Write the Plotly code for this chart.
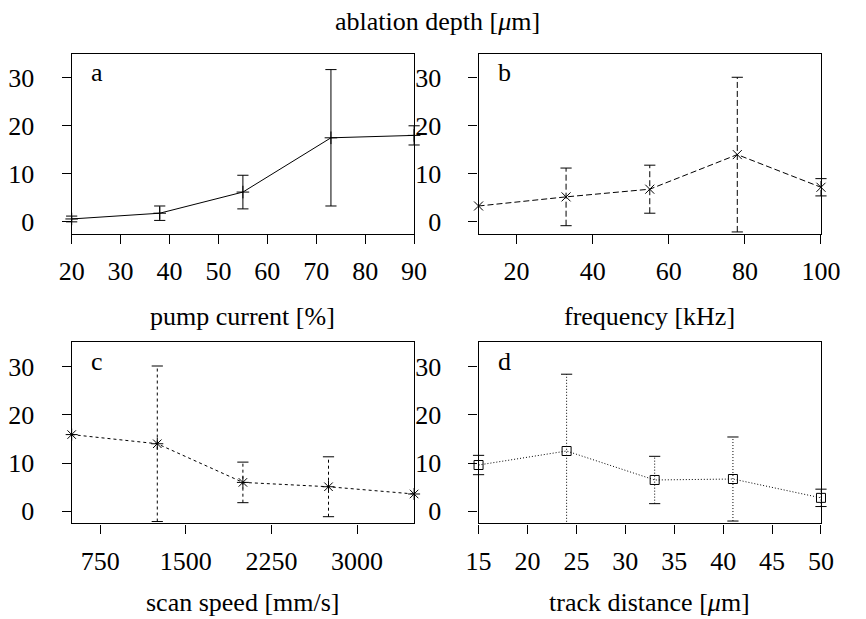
import plotly.graph_objects as go

# ---- data ----
pump_current = [20, 38, 55, 73, 90]
depth_a = [0.6, 1.8, 6.2, 17.5, 18.0]
err_a = [0.6, 1.5, 3.5, 14.2, 2.0]

frequency = [10, 33, 55, 78, 100]
depth_b = [3.3, 5.2, 6.8, 14.0, 7.2]
err_b = [0.0, 6.0, 5.0, 16.1, 1.8]

scan_speed = [500, 1250, 2000, 2750, 3500]
depth_c = [15.9, 14.0, 6.0, 5.1, 3.6]
err_c = [0.0, 16.1, 4.2, 6.2, 0.0]

track_distance = [15, 24, 33, 41, 50]
depth_d = [9.6, 12.5, 6.5, 6.7, 2.8]
err_d = [2.0, 15.9, 4.9, 8.7, 1.8]

panel_labels = ["a", "b", "c", "d"]
x_titles = ["pump current [%]", "frequency [kHz]", "scan speed [mm/s]",
            "track distance [<i>μ</i>m]"]
y_title = "ablation depth [<i>μ</i>m]"
y_ticks = [0, 10, 20, 30]
Y_RANGE = [-2.5, 35]

FONT = "Liberation Serif"
FS = 26

panels = [
    dict(x=pump_current, y=depth_a, e=err_a, dash="solid", sym="cross-thin-open", msize=9,
         xrange=[20, 90], dtick=10),
    dict(x=frequency, y=depth_b, e=err_b, dash="6px,3px", sym="x-thin-open", msize=9,
         xrange=[10, 100], dtick=20),
    dict(x=scan_speed, y=depth_c, e=err_c, dash="3px,3px", sym="asterisk-open", msize=10,
         xrange=[500, 3500], dtick=750),
    dict(x=track_distance, y=depth_d, e=err_d, dash="1px,2px", sym="square-open", msize=9,
         xrange=[15, 50], dtick=5),
]

W, H = 866, 619
xdoms = [[61 / W, 417 / W], [484 / W, 840 / W]]
ydoms = [[1 - 235 / H, 1 - 54 / H], [1 - 526 / H, 1 - 344 / H]]

fig = go.Figure()

for i, p in enumerate(panels):
    n = i + 1
    xa = "x" if n == 1 else f"x{n}"
    ya = "y" if n == 1 else f"y{n}"
    ex, ey = [], []
    cx, cy = [], []
    for xv, yv, ev in zip(p["x"], p["y"], p["e"]):
        if ev <= 0:
            continue
        ex += [xv, xv, None]
        ey += [yv - ev, yv + ev, None]
        for v in (yv - ev, yv + ev):
            if Y_RANGE[0] <= v <= Y_RANGE[1]:
                cx.append(xv)
                cy.append(v)
    fig.add_trace(go.Scatter(x=ex, y=ey, mode="lines", xaxis=xa, yaxis=ya,
                             line=dict(color="black", width=1, dash=p["dash"]),
                             hoverinfo="skip", showlegend=False))
    fig.add_trace(go.Scatter(x=cx, y=cy, mode="markers", xaxis=xa, yaxis=ya,
                             marker=dict(symbol="line-ew-open", size=8, color="black",
                                         line=dict(color="black", width=1)),
                             cliponaxis=False, hoverinfo="skip", showlegend=False))
    fig.add_trace(go.Scatter(x=p["x"], y=p["y"], mode="lines+markers", xaxis=xa, yaxis=ya,
                             line=dict(color="black", width=1, dash=p["dash"]),
                             marker=dict(symbol=p["sym"], size=p["msize"], color="black",
                                         line=dict(color="black", width=1)),
                             cliponaxis=False, showlegend=False))

    col, row = i % 2, i // 2
    axis_common = dict(showline=True, mirror=True, linecolor="black", linewidth=1.3,
                       ticks="outside", ticklen=9, tickcolor="black", tickwidth=1,
                       showgrid=False, zeroline=False,
                       tickfont=dict(family=FONT, size=FS, color="black"))
    xkey = "xaxis" if n == 1 else f"xaxis{n}"
    ykey = "yaxis" if n == 1 else f"yaxis{n}"
    fig.update_layout(**{
        xkey: dict(domain=xdoms[col], anchor=ya, range=p["xrange"], tick0=0,
                   dtick=p["dtick"], ticklabelstandoff=5, **axis_common),
        ykey: dict(domain=ydoms[row], anchor=xa, range=Y_RANGE, tickvals=y_ticks,
                   ticklabelstandoff=22, **axis_common),
    })
    fig.add_annotation(text=panel_labels[i], xref=f"{xa} domain", yref=f"{ya} domain",
                       x=0.05, y=0.895, xanchor="left", yanchor="middle", showarrow=False,
                       font=dict(family=FONT, size=FS, color="black"))
    xc = (xdoms[col][0] + xdoms[col][1]) / 2
    ty = [1 - 318 / H, 1 - 605 / H][row]
    fig.add_annotation(text=x_titles[i], xref="paper", yref="paper", x=xc, y=ty,
                       xanchor="center", yanchor="middle", showarrow=False,
                       font=dict(family=FONT, size=FS, color="black"))

fig.add_annotation(text=y_title, xref="paper", yref="paper", x=441 / W, y=1 - 22 / H,
                   xanchor="center", yanchor="middle", showarrow=False,
                   font=dict(family=FONT, size=FS, color="black"))

fig.update_layout(width=W, height=H, margin=dict(l=0, r=0, t=0, b=0),
                  paper_bgcolor="white", plot_bgcolor="white",
                  font=dict(family=FONT, size=FS, color="black"))

fig.write_html("out.html")
